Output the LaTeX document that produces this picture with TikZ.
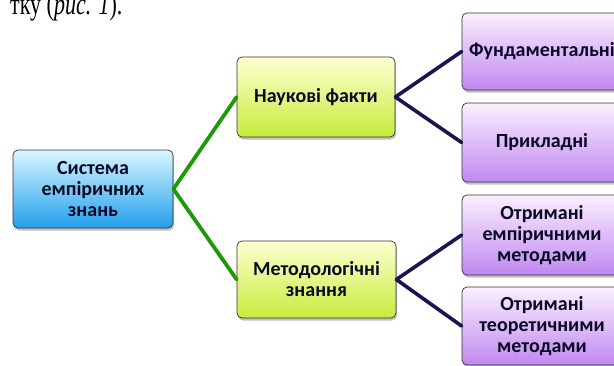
\documentclass[tikz,border=0pt]{standalone}
\usepackage{fontspec}
\setmainfont{Carlito}
\newfontfamily\serifcyr{Liberation Serif}
\usetikzlibrary{shadows}
\definecolor{txt}{HTML}{0A0A28}
\definecolor{bluetop}{HTML}{D8F6FF}
\definecolor{bluebot}{HTML}{229FEC}
\definecolor{yeltop}{HTML}{FFFFD2}
\definecolor{yelbot}{HTML}{C6EC3A}
\definecolor{purtop}{HTML}{FBEFFF}
\definecolor{purbot}{HTML}{C088F0}
\definecolor{greenline}{HTML}{1E9A08}
\definecolor{navyline}{HTML}{1C1450}
\begin{document}
\begin{tikzpicture}[x=1pt,y=-1pt,
  box/.style={draw=black!80, rounded corners=5pt, line width=0.7pt,
    drop shadow={shadow xshift=1pt, shadow yshift=-2.5pt, fill=black!35, opacity=0.7},
    align=center, font=\fontsize{20}{21}\selectfont\bfseries, text=txt, inner sep=0pt,
    minimum width=160pt},
  bluebox/.style={box, top color=bluetop, bottom color=bluebot},
  yelbox/.style={box, top color=yeltop, bottom color=yelbot},
  purbox/.style={box, top color=purtop, bottom color=purbot},
  gline/.style={draw=greenline, line width=3.8pt, line cap=round},
  nline/.style={draw=navyline, line width=3.6pt, line cap=round}]
\useasboundingbox (0,0) rectangle (614,365);
\clip (0,0) rectangle (614,365);
\node[anchor=base west, font=\serifcyr\fontsize{22}{26}\selectfont, inner sep=0pt, text=black] (cap) at (10,14) {\scalebox{1}[1.4]{тку (\textit{рис. 1}).}};
\node[bluebox, minimum height=78pt] (sys) at (93,189) {Система\\емпіричних\\знань};
\node[yelbox, minimum width=158pt, minimum height=80pt] (nauk) at (316,97) {Наукові факти};
\node[yelbox, minimum width=159pt, minimum height=77pt] (met) at (316.5,279.5) {Методологічні\\знання};
\node[purbox, minimum height=77pt] (fund) at (542,51.5) {Фундаментальні};
\node[purbox, minimum height=79pt] (prykl) at (542,142.5) {Прикладні};
\node[purbox, minimum height=80pt] (emp) at (542,235) {Отримані\\емпіричними\\методами};
\node[purbox, minimum height=78pt] (teor) at (542,326) {Отримані\\теоретичними\\методами};
\draw[gline] (sys.east) -- (nauk.west);
\draw[gline] (sys.east) -- (met.west);
\draw[nline] (nauk.east) -- (fund.west);
\draw[nline] (nauk.east) -- (prykl.west);
\draw[nline] (met.east) -- (emp.west);
\draw[nline] (met.east) -- (teor.west);
\end{tikzpicture}
\end{document}
